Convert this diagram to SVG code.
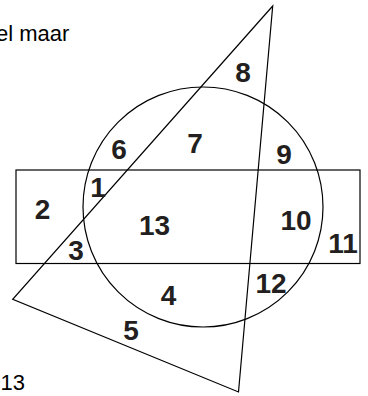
<svg xmlns="http://www.w3.org/2000/svg" width="368" height="396" viewBox="0 0 368 396">
<style>
.shape{fill:none;stroke:#000;stroke-width:1.2}
.num{font-family:"Liberation Sans",Arial,sans-serif;font-weight:bold;font-size:28px;fill:#231f20;text-anchor:middle}
.plain{font-family:"Liberation Sans",Arial,sans-serif;font-size:22px;fill:#000}
</style>
<rect width="368" height="396" fill="#fff"/>
<text class="plain" x="-4" y="41">el maar</text>
<text class="plain" x="0.5" y="389.5">13</text>
<g id="connectors">
<rect id="rectangle" class="shape" x="16" y="170" width="344" height="93.5"/>
<circle id="circle" class="shape" cx="203" cy="207" r="120"/>
<polygon id="triangle" class="shape" points="272.7,6 12.7,299.3 238.5,392"/>
</g>
<g id="n1"><text class="num" x="98" y="196.5">1</text></g>
<g id="n2"><text class="num" x="42.5" y="218.5">2</text></g>
<g id="n3"><text class="num" x="76" y="260">3</text></g>
<g id="n4"><text class="num" x="168.5" y="305">4</text></g>
<g id="n5"><text class="num" x="131" y="340">5</text></g>
<g id="n6"><text class="num" x="119" y="158.5">6</text></g>
<g id="n7"><text class="num" x="195" y="153">7</text></g>
<g id="n8"><text class="num" x="243" y="81.5">8</text></g>
<g id="n9"><text class="num" x="284" y="164">9</text></g>
<g id="n10"><text class="num" x="296" y="230">10</text></g>
<g id="n11"><text class="num" x="343" y="253">11</text></g>
<g id="n12"><text class="num" x="271" y="293">12</text></g>
<g id="n13"><text class="num" x="154.5" y="235">13</text></g>
</svg>
